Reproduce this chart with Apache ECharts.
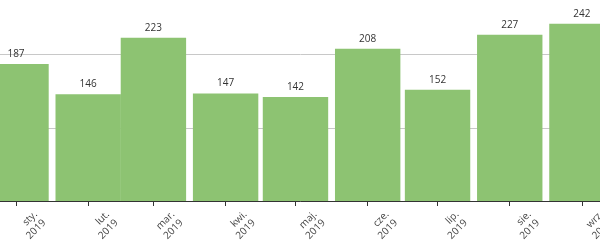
<!DOCTYPE html>
<html><head><meta charset="utf-8">
<script src="https://cdn.jsdelivr.net/npm/echarts@6/dist/echarts.min.js"></script>
<style>html,body{margin:0;padding:0;background:#fff}#c{width:600px;height:251px}</style>
</head><body><div id="c"></div>
<script>
// Month names and data
const monthLabels = ['sty.', 'lut.', 'mar.', 'kwi.', 'maj.', 'cze.', 'lip.', 'sie.', 'wrz.'];
const yearLabel = '2019';
const monthStartDay = [0, 31, 59, 90, 120, 151, 181, 212, 243]; // day of year 2019
const values = [187, 146, 223, 147, 142, 208, 152, 227, 242];

// layout constants
const pxPerDay = 2.329;
const firstTickX = 16;
const gridWidth = 640;
const labelShiftDays = 10.3;
const baselineY = 201;
const pxPerUnit = 0.732;
const yMax = 300;

const xMin = -firstTickX / pxPerDay;
const xMax = (gridWidth - firstTickX) / pxPerDay;
const labelValues = monthStartDay.map(d => d + labelShiftDays);
const gridHeight = yMax * pxPerUnit;

const chart = echarts.init(document.getElementById('c'), null, {renderer: 'canvas'});
chart.setOption({
  animation: false,
  grid: {left: 0, width: gridWidth, top: baselineY - gridHeight, height: gridHeight,
         containLabel: false, outerBoundsMode: 'none'},
  xAxis: {
    type: 'value', min: xMin, max: xMax,
    splitLine: {show: false},
    axisLine: {show: true, lineStyle: {color: '#333', width: 1}},
    axisTick: {show: true, customValues: monthStartDay, length: 5, lineStyle: {color: '#333'}},
    axisLabel: {
      customValues: labelValues, rotate: 45, margin: 16,
      color: '#444', fontSize: 10, fontFamily: 'Open Sans', lineHeight: 12,
      formatter: v => {
        const i = labelValues.indexOf(v);
        return i >= 0 ? monthLabels[i] + '\n' + yearLabel : '';
      }
    }
  },
  yAxis: {
    type: 'value', min: 0, max: yMax, interval: 100,
    axisLine: {show: false}, axisTick: {show: false}, axisLabel: {show: false},
    splitLine: {lineStyle: {color: '#c8c8c8', width: 1}}
  },
  series: [{
    type: 'bar', barWidth: 65.4,
    data: monthStartDay.map((d, i) => [d, values[i]]),
    itemStyle: {color: '#8dc372'},
    label: {show: true, position: 'top', distance: 5, color: '#333', fontSize: 10, fontFamily: 'Open Sans'}
  }]
});
</script></body></html>
